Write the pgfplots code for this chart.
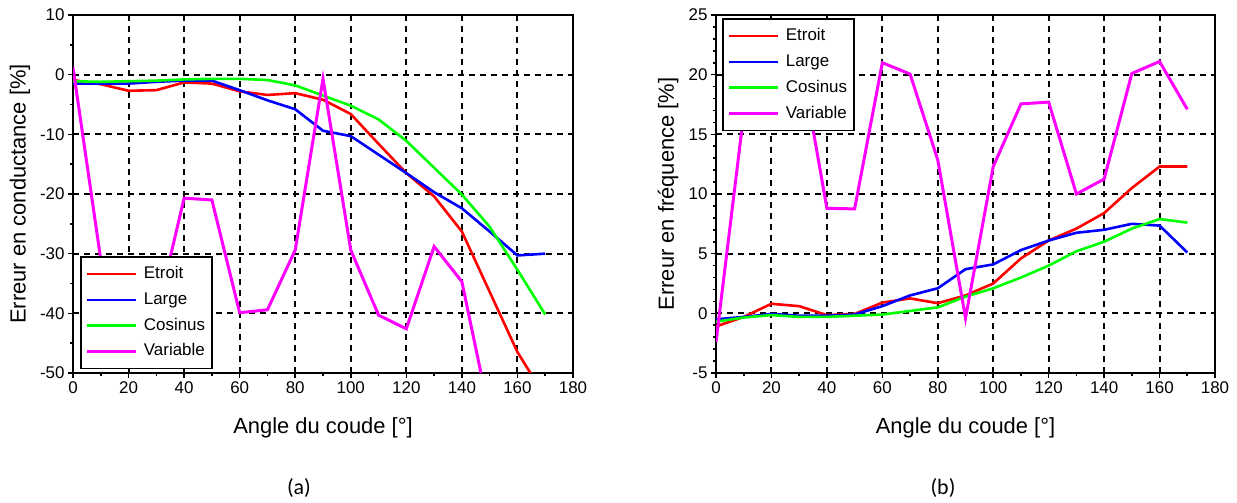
\documentclass[border=0pt]{standalone}
\usepackage{fontspec}
\setmainfont{Liberation Sans}
\newfontfamily\calibri{Carlito}
\usepackage{pgfplots}
\pgfplotsset{compat=1.18}
\definecolor{cRed}{RGB}{255,0,0}
\definecolor{cBlue}{RGB}{0,0,255}
\definecolor{cGreen}{RGB}{0,255,0}
\definecolor{cMag}{RGB}{255,0,255}
\pgfplotsset{
  common/.style={
    scale only axis, height=358bp,
    xmin=0, xmax=180, xtick={0,20,...,180},
    xticklabels={0,20,40,60,80,100,120,140,160,180},
    minor x tick num=1,
    tick pos=left, tick align=outside,
    major tick length=5bp, minor tick length=3bp,
    every tick/.style={black, line width=1.6bp},
    axis line style={black, line width=2bp},
    grid=major,
    major grid style={black, line width=2bp, dash pattern=on 6bp off 5bp},
    ticklabel style={font=\fontsize{17}{20}\selectfont},
    label style={font=\fontsize{22}{26}\selectfont},
    xlabel={Angle du coude [°]},
    xlabel style={at={(axis description cs:0.5,-0.1536)}, anchor=center},
    legend cell align=left,
    legend image code/.code={\draw[#1] (0bp,0bp) -- (49bp,0bp);},
    legend style={draw=black, line width=1.8bp, fill=white,
      font=\fontsize{17}{20}\selectfont,
      inner xsep=5bp, inner ysep=7bp, row sep=5.8bp, column sep=4bp,
      nodes={inner sep=2bp, text height=12.5bp, text depth=3.5bp}},
    every axis plot/.append style={line width=2.6bp},
  }
}
\begin{document}
\begin{tikzpicture}[x=1bp,y=1bp]
\path[use as bounding box] (0,0) rectangle (1237,503);

\begin{axis}[common, at={(73bp,130bp)}, anchor=south west, width=500bp,
  ymin=-50, ymax=10, ytick={-50,-40,...,10},
  yticklabels={-50,-40,-30,-20,-10,0,10}, minor y tick num=1,
  ylabel={Erreur en conductance [\%]},
  ylabel style={at={(axis description cs:-0.106,0.5)}, anchor=center},
  legend style={at={(0.014,0.0103)}, anchor=south west}]
\addplot[cRed] coordinates {(0,-0.9)(10,-1.6)(20,-2.7)(30,-2.6)(40,-1.3)(50,-1.5)(60,-2.8)(70,-3.4)(80,-3.1)(90,-4.2)(100,-6.6)(110,-11.6)(120,-16.5)(130,-20.4)(140,-26.3)(150,-36.4)(160,-46.5)(170,-54)};
\addlegendentry{Etroit}
\addplot[cBlue] coordinates {(0,-1.5)(10,-1.5)(20,-1.5)(30,-1.2)(40,-1.0)(50,-1.0)(60,-2.6)(70,-4.3)(80,-5.8)(90,-9.4)(100,-10.3)(110,-13.4)(120,-16.5)(130,-19.7)(140,-22.4)(150,-26.3)(160,-30.3)(170,-30.0)};
\addlegendentry{Large}
\addplot[cGreen] coordinates {(0,-1.1)(10,-1.2)(20,-1.1)(30,-1.0)(40,-0.8)(50,-0.7)(60,-0.7)(70,-0.9)(80,-1.8)(90,-3.5)(100,-5.2)(110,-7.5)(120,-11.1)(130,-15.6)(140,-20.1)(150,-25.5)(160,-32.7)(170,-40.2)};
\addlegendentry{Cosinus}
\addplot[cMag, line width=3bp] coordinates {(0,1.2)(10,-31)(20,-44)(30,-40.5)(40,-20.7)(50,-21)(60,-39.9)(70,-39.4)(80,-29.4)(90,-0.7)(100,-29.4)(110,-40.3)(120,-42.6)(130,-28.8)(140,-34.7)(150,-57)};
\addlegendentry{Variable}
\end{axis}

\begin{axis}[common, at={(716bp,130bp)}, anchor=south west, width=499bp,
  ymin=-5, ymax=25, ytick={-5,0,...,25},
  yticklabels={-5,0,5,10,15,20,25}, minor y tick num=4,
  ylabel={Erreur en fréquence [\%]},
  ylabel style={at={(axis description cs:-0.0962,0.5)}, anchor=center},
  legend style={at={(0.012,0.991)}, anchor=north west}]
\addplot[cRed] coordinates {(0,-1.1)(10,-0.3)(20,0.8)(30,0.6)(40,-0.15)(50,-0.05)(60,0.9)(70,1.25)(80,0.85)(90,1.5)(100,2.5)(110,4.6)(120,6.1)(130,7.1)(140,8.4)(150,10.5)(160,12.3)(170,12.3)};
\addlegendentry{Etroit}
\addplot[cBlue] coordinates {(0,-0.5)(10,-0.3)(20,-0.05)(30,-0.2)(40,-0.2)(50,-0.1)(60,0.6)(70,1.5)(80,2.1)(90,3.7)(100,4.1)(110,5.3)(120,6.1)(130,6.75)(140,7.0)(150,7.5)(160,7.35)(170,5.1)};
\addlegendentry{Large}
\addplot[cGreen] coordinates {(0,-0.7)(10,-0.35)(20,-0.15)(30,-0.3)(40,-0.3)(50,-0.2)(60,-0.1)(70,0.2)(80,0.5)(90,1.4)(100,2.1)(110,3.0)(120,4.0)(130,5.2)(140,6.0)(150,7.1)(160,7.9)(170,7.6)};
\addlegendentry{Cosinus}
\addplot[cMag, line width=3bp] coordinates {(0,-2.4)(10,16.7)(20,21)(30,22)(40,8.8)(50,8.75)(60,21.0)(70,20.05)(80,12.85)(90,-0.4)(100,12.3)(110,17.55)(120,17.7)(130,10.0)(140,11.25)(150,20.1)(160,21.1)(170,17.1)};
\addlegendentry{Variable}
\end{axis}

\node[font=\calibri\fontsize{22}{26}\selectfont] at (299,15) {(a)};
\node[font=\calibri\fontsize{22}{26}\selectfont] at (943,15) {(b)};
\end{tikzpicture}
\end{document}
